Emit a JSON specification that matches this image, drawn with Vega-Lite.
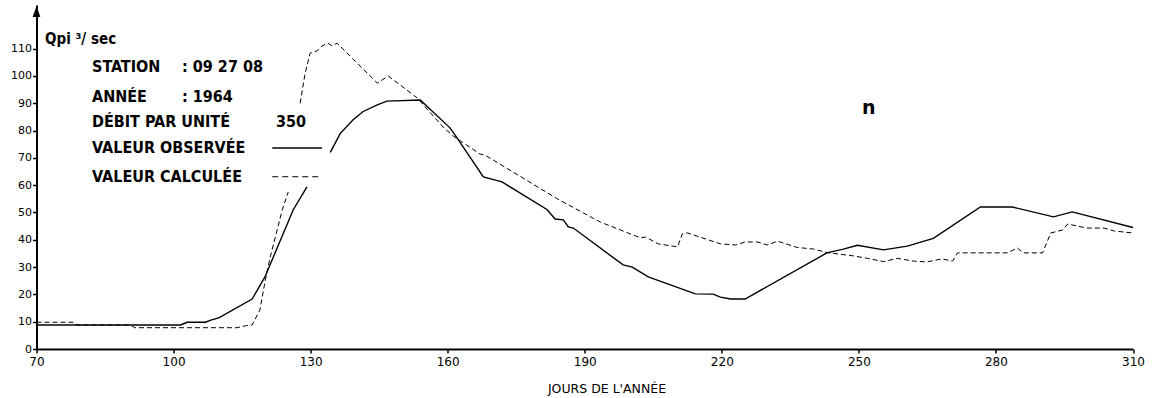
{
  "$schema": "https://vega.github.io/schema/vega-lite/v6.json",
  "autosize": "none",
  "width": 1096.5,
  "height": 344,
  "padding": {"left": 36.5, "top": 5, "right": 21, "bottom": 49},
  "background": "white",
  "config": {
    "view": {"stroke": null},
    "font": "DejaVu Sans, sans-serif"
  },
  "datasets": {
    "obs": [
      {"jour": 70, "q": 8.8, "seg": 1}, {"jour": 101.5, "q": 8.8, "seg": 1}, {"jour": 103, "q": 9.8, "seg": 1},
      {"jour": 107, "q": 9.8, "seg": 1}, {"jour": 108, "q": 10.5, "seg": 1}, {"jour": 110, "q": 11.5, "seg": 1},
      {"jour": 117.2, "q": 18.3, "seg": 1}, {"jour": 120, "q": 26.4, "seg": 1}, {"jour": 126.2, "q": 51, "seg": 1},
      {"jour": 129.2, "q": 59.4, "seg": 1},
      {"jour": 134.3, "q": 72, "seg": 2}, {"jour": 136.5, "q": 79, "seg": 2}, {"jour": 139.3, "q": 84, "seg": 2},
      {"jour": 141.5, "q": 87, "seg": 2}, {"jour": 144.6, "q": 89.4, "seg": 2}, {"jour": 146.7, "q": 90.8, "seg": 2},
      {"jour": 154, "q": 91.2, "seg": 2}, {"jour": 160.5, "q": 81, "seg": 2}, {"jour": 161.6, "q": 78.4, "seg": 2},
      {"jour": 167.8, "q": 63, "seg": 2}, {"jour": 171.9, "q": 61.2, "seg": 2}, {"jour": 181.8, "q": 51, "seg": 2},
      {"jour": 183.5, "q": 47.6, "seg": 2}, {"jour": 185.3, "q": 47.3, "seg": 2}, {"jour": 186.4, "q": 44.7, "seg": 2},
      {"jour": 187.5, "q": 44.3, "seg": 2}, {"jour": 198.4, "q": 30.8, "seg": 2}, {"jour": 200.4, "q": 30, "seg": 2},
      {"jour": 203.9, "q": 26.4, "seg": 2}, {"jour": 214.2, "q": 20.2, "seg": 2}, {"jour": 218.1, "q": 20.1, "seg": 2},
      {"jour": 219.7, "q": 19, "seg": 2}, {"jour": 221.9, "q": 18.3, "seg": 2}, {"jour": 225.1, "q": 18.3, "seg": 2},
      {"jour": 243, "q": 35.2, "seg": 2}, {"jour": 246.6, "q": 36.6, "seg": 2}, {"jour": 249.7, "q": 38, "seg": 2},
      {"jour": 255.4, "q": 36.3, "seg": 2}, {"jour": 260.6, "q": 37.7, "seg": 2}, {"jour": 266.3, "q": 40.5, "seg": 2},
      {"jour": 276.6, "q": 52, "seg": 2}, {"jour": 283.6, "q": 52, "seg": 2}, {"jour": 292.6, "q": 48.4, "seg": 2},
      {"jour": 296.7, "q": 50.2, "seg": 2}, {"jour": 310, "q": 44.5, "seg": 2}
    ],
    "calc": [
      {"jour": 70, "q": 9.8, "seg": 1}, {"jour": 78, "q": 9.8, "seg": 1}, {"jour": 79, "q": 8.8, "seg": 1},
      {"jour": 90.5, "q": 8.8, "seg": 1}, {"jour": 91.5, "q": 7.8, "seg": 1}, {"jour": 113.9, "q": 7.8, "seg": 1},
      {"jour": 115.7, "q": 8.5, "seg": 1}, {"jour": 117.2, "q": 8.8, "seg": 1}, {"jour": 118.9, "q": 14.3, "seg": 1},
      {"jour": 120, "q": 24.5, "seg": 1}, {"jour": 121.1, "q": 33.3, "seg": 1}, {"jour": 123.8, "q": 51, "seg": 1},
      {"jour": 125.1, "q": 57.5, "seg": 1},
      {"jour": 127.7, "q": 90, "seg": 2}, {"jour": 128.8, "q": 101, "seg": 2}, {"jour": 129.9, "q": 108.4, "seg": 2},
      {"jour": 131.4, "q": 109.2, "seg": 2}, {"jour": 132.5, "q": 111, "seg": 2}, {"jour": 133.8, "q": 112, "seg": 2},
      {"jour": 134.7, "q": 111, "seg": 2}, {"jour": 135.8, "q": 112, "seg": 2}, {"jour": 144.6, "q": 97.4, "seg": 2},
      {"jour": 147, "q": 100, "seg": 2}, {"jour": 153.3, "q": 92, "seg": 2}, {"jour": 159, "q": 81.3, "seg": 2},
      {"jour": 161.2, "q": 78, "seg": 2}, {"jour": 167.1, "q": 71.4, "seg": 2}, {"jour": 168.2, "q": 71, "seg": 2},
      {"jour": 184, "q": 55, "seg": 2}, {"jour": 193.4, "q": 46.5, "seg": 2}, {"jour": 197.8, "q": 43.6, "seg": 2},
      {"jour": 202.2, "q": 40.7, "seg": 2}, {"jour": 203.3, "q": 41, "seg": 2}, {"jour": 206.1, "q": 38.5, "seg": 2},
      {"jour": 210.3, "q": 37.4, "seg": 2}, {"jour": 211.4, "q": 42.3, "seg": 2}, {"jour": 212.5, "q": 42.5, "seg": 2},
      {"jour": 219.7, "q": 38.5, "seg": 2}, {"jour": 223, "q": 38.1, "seg": 2}, {"jour": 225.1, "q": 39.2, "seg": 2},
      {"jour": 227.8, "q": 39.2, "seg": 2}, {"jour": 230, "q": 38.1, "seg": 2}, {"jour": 232.2, "q": 39.5, "seg": 2},
      {"jour": 236.5, "q": 37.2, "seg": 2}, {"jour": 240.1, "q": 36.6, "seg": 2}, {"jour": 243.1, "q": 35.3, "seg": 2},
      {"jour": 248.8, "q": 34.1, "seg": 2}, {"jour": 251.9, "q": 33.2, "seg": 2}, {"jour": 255.4, "q": 32, "seg": 2},
      {"jour": 258.4, "q": 33.2, "seg": 2}, {"jour": 261.9, "q": 32.2, "seg": 2}, {"jour": 264.9, "q": 31.9, "seg": 2},
      {"jour": 268.2, "q": 33, "seg": 2}, {"jour": 270.5, "q": 32.2, "seg": 2}, {"jour": 271.6, "q": 35.2, "seg": 2},
      {"jour": 282.5, "q": 35.2, "seg": 2}, {"jour": 284.7, "q": 37, "seg": 2}, {"jour": 286, "q": 35.2, "seg": 2},
      {"jour": 290.2, "q": 35.2, "seg": 2}, {"jour": 292, "q": 42.5, "seg": 2}, {"jour": 294.6, "q": 43.6, "seg": 2},
      {"jour": 295.7, "q": 45.8, "seg": 2}, {"jour": 299.8, "q": 44.3, "seg": 2}, {"jour": 303.7, "q": 44.3, "seg": 2},
      {"jour": 305.9, "q": 43.2, "seg": 2}, {"jour": 310, "q": 42.5, "seg": 2}
    ],
    "notes": [
      {"jour": 82.15, "q": 103.3, "t": "STATION"},
      {"jour": 82.15, "q": 92.3, "t": "ANNÉE"},
      {"jour": 82.15, "q": 83.2, "t": "DÉBIT PAR UNITÉ"},
      {"jour": 82.15, "q": 73.6, "t": "VALEUR OBSERVÉE"},
      {"jour": 82.15, "q": 63.0, "t": "VALEUR CALCULÉE"},
      {"jour": 101.86, "q": 103.3, "t": ":  09 27 08"},
      {"jour": 101.86, "q": 92.3, "t": ":  1964"},
      {"jour": 122.4, "q": 83.2, "t": "350"}
    ],
    "unit": [{"jour": 71.86, "q": 113.6, "t": "Qpi ³/ sec"}],
    "tag": [{"jour": 250.7, "q": 88.3, "t": "n"}],
    "keyObs": [{"jour": 121.6, "fin": 132.5, "q": 73.6}],
    "keyCalc": [{"jour": 121.6, "fin": 132.5, "q": 63.1}],
    "arrow": [{"jour": 70, "q": 123.6}]
  },
  "encoding": {
    "x": {
      "field": "jour", "type": "quantitative",
      "scale": {"domain": [70, 310], "nice": false, "zero": false},
      "axis": {
        "values": [70, 100, 130, 160, 190, 220, 250, 280, 310],
        "labelFlush": false, "labelOverlap": false,
        "title": "JOURS DE L'ANNÉE",
        "titleFont": "DejaVu Sans, sans-serif",
        "titleFontSize": 12.5, "titleFontWeight": "normal", "titleColor": "black",
        "titleX": 570, "titleY": 39, "titleBaseline": "middle", "titleAlign": "center",
        "labelFont": "DejaVu Sans, sans-serif",
        "labelFontSize": 12, "labelColor": "black", "labelPadding": 3,
        "tickSize": 4, "tickColor": "black", "tickWidth": 1.5,
        "domainColor": "black", "domainWidth": 2, "grid": false
      }
    },
    "y": {
      "field": "q", "type": "quantitative",
      "scale": {"domain": [0, 126], "nice": false},
      "axis": {
        "values": [0, 10, 20, 30, 40, 50, 60, 70, 80, 90, 100, 110],
        "labelFlush": false, "labelOverlap": false,
        "title": null,
        "labelFont": "DejaVu Sans, sans-serif",
        "labelFontSize": 11, "labelColor": "black", "labelPadding": 1,
        "tickSize": 4, "tickColor": "black", "tickWidth": 1.5,
        "domainColor": "black", "domainWidth": 2, "grid": false
      }
    }
  },
  "layer": [
    {
      "data": {"name": "obs"},
      "mark": {"type": "line", "color": "black", "strokeWidth": 1.4},
      "encoding": {"detail": {"field": "seg", "type": "nominal"}}
    },
    {
      "data": {"name": "calc"},
      "mark": {"type": "line", "color": "black", "strokeWidth": 1, "strokeDash": [5, 3]},
      "encoding": {"detail": {"field": "seg", "type": "nominal"}}
    },
    {
      "data": {"name": "notes"},
      "mark": {"type": "text", "align": "left", "baseline": "middle", "font": "DejaVu Sans Condensed, DejaVu Sans, sans-serif", "fontSize": 16, "fontWeight": "bold", "color": "black"},
      "encoding": {"text": {"field": "t"}}
    },
    {
      "data": {"name": "unit"},
      "mark": {"type": "text", "align": "left", "baseline": "middle", "font": "DejaVu Sans Condensed, DejaVu Sans, sans-serif", "fontSize": 15, "fontWeight": "bold", "color": "black"},
      "encoding": {"text": {"field": "t"}}
    },
    {
      "data": {"name": "tag"},
      "mark": {"type": "text", "align": "left", "baseline": "middle", "fontSize": 19, "fontWeight": "bold", "color": "black"},
      "encoding": {"text": {"field": "t"}}
    },
    {
      "data": {"name": "keyObs"},
      "mark": {"type": "rule", "color": "black", "strokeWidth": 1.4},
      "encoding": {"x2": {"field": "fin"}}
    },
    {
      "data": {"name": "keyCalc"},
      "mark": {"type": "rule", "color": "black", "strokeWidth": 1, "strokeDash": [6, 4]},
      "encoding": {"x2": {"field": "fin"}}
    },
    {
      "data": {"name": "arrow"},
      "mark": {"type": "point", "shape": "M0,-1L0.7,1L-0.7,1Z", "filled": true, "color": "black", "size": 121, "opacity": 1}
    }
  ]
}
